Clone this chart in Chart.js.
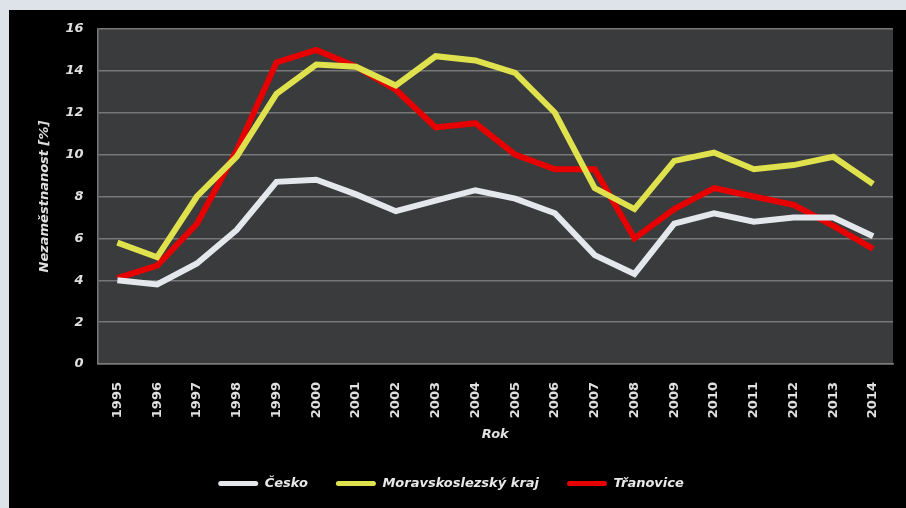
<!DOCTYPE html>
<html>
<head>
<meta charset="utf-8">
<script src="https://cdn.jsdelivr.net/npm/chart.js@4"></script>
<style>
  html, body { margin: 0; padding: 0; }
  body { width: 906px; height: 508px; background: #dde3e9; position: relative; overflow: hidden; }
  #wrap { position: absolute; left: 9px; top: 10px; width: 897px; height: 498px; background: #000; }
</style>
</head>
<body>
<div id="wrap"><canvas id="chart"></canvas></div>
<script>
'use strict';

/* Data */
const years = ['1995', '1996', '1997', '1998', '1999', '2000', '2001', '2002', '2003', '2004',
  '2005', '2006', '2007', '2008', '2009', '2010', '2011', '2012', '2013', '2014'];
const cesko = [4.0, 3.8, 4.8, 6.4, 8.7, 8.8, 8.1, 7.3, 7.8, 8.3, 7.9, 7.2, 5.2, 4.3, 6.7, 7.2, 6.8, 7.0, 7.0, 6.1];
const msKraj = [5.8, 5.1, 8.0, 9.9, 12.9, 14.3, 14.2, 13.3, 14.7, 14.5, 13.9, 12.0, 8.4, 7.4, 9.7, 10.1, 9.3, 9.5, 9.9, 8.6];
const tranovice = [4.1, 4.7, 6.7, 10.2, 14.4, 15.0, 14.2, 13.1, 11.3, 11.5, 10.0, 9.3, 9.3, 6.0, 7.4, 8.4, 8.0, 7.6, 6.6, 5.5];
const seriesNames = ['Česko', 'Moravskoslezský kraj', 'Třanovice'];
const seriesColors = ['#e4e8ec', '#dfe24c', '#e60000'];

const tickFont = { family: 'DejaVu Sans', size: 13, weight: 'bold', style: 'italic' };

// dark plot background
const plotBg = {
  id: 'plotBg',
  beforeDraw(chart) {
    const a = chart.chartArea;
    const ctx = chart.ctx;
    ctx.save();
    ctx.fillStyle = '#3a3b3c';
    ctx.fillRect(a.left, a.top, a.right - a.left, a.bottom - a.top);
    ctx.restore();
  }
};

const ctx = document.getElementById('chart');
const myChart = new Chart(ctx, {
  type: 'line',
  data: {
    labels: years,
    datasets: [cesko, msKraj, tranovice].map((d, i) => ({
      label: seriesNames[i],
      data: d,
      borderColor: seriesColors[i],
      backgroundColor: seriesColors[i],
      borderWidth: 6,
      pointRadius: 0,
      tension: 0,
      borderJoinStyle: 'miter',
    })),
  },
  options: {
    responsive: true,
    maintainAspectRatio: false,
    animation: false,
    layout: { padding: { left: 0, top: 19, right: 13, bottom: 8 } },
    plugins: {
      tooltip: { enabled: false },
      legend: {
        position: 'bottom',
        labels: {
          color: '#e8e8e8',
          font: { family: 'DejaVu Sans', size: 13, weight: 'bold', style: 'italic' },
          boxWidth: 40,
          boxHeight: 5,
          padding: 28,
          useBorderRadius: true,
          borderRadius: 2.5,
          generateLabels(chart) {
            // plain filled bar, no border
            return Chart.defaults.plugins.legend.labels.generateLabels(chart).map((l) => {
              l.lineWidth = 0;
              l.fillStyle = seriesColors[l.datasetIndex];
              return l;
            });
          },
        },
      },
    },
    scales: {
      x: {
        offset: true,
        grid: { display: false },
        border: { display: true, color: '#7a7a7a', width: 1.5 },
        ticks: {
          color: '#e0e0e0',
          font: { family: 'DejaVu Sans', size: 13, weight: 'bold' },
          maxRotation: 90,
          minRotation: 90,
          padding: 10,
          autoSkip: false,
        },
        title: {
          display: true,
          text: 'Rok',
          color: '#e0e0e0',
          font: tickFont,
          padding: { top: 0, bottom: 7 },
        },
        afterFit(scale) { scale.height = 85; },
      },
      y: {
        min: 0,
        max: 16,
        grid: { color: '#777777', lineWidth: 1.5, drawTicks: false },
        border: { display: true, color: '#7a7a7a', width: 1.5 },
        ticks: {
          stepSize: 2,
          color: '#e0e0e0',
          font: tickFont,
          padding: 14,
        },
        title: {
          display: true,
          text: 'Nezaměstnanost [%]',
          color: '#e0e0e0',
          font: tickFont,
          padding: { top: 28, bottom: 0 },
        },
        afterFit(scale) {
          scale.width = 88.5;
          scale.paddingTop = 0;
        },
      },
    },
  },
  plugins: [plotBg],
});
</script>
</body>
</html>
